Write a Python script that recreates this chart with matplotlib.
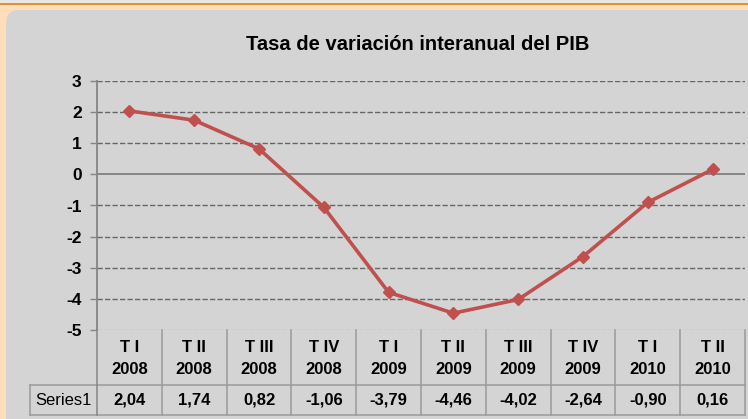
import numpy as np
import matplotlib
matplotlib.use('Agg')
import matplotlib.pyplot as plt
from matplotlib.patches import FancyBboxPatch, Rectangle
from matplotlib.transforms import blended_transform_factory

plt.rcParams['font.family'] = ['Liberation Sans', 'DejaVu Sans']

# datos
trimestres = ['T I', 'T II', 'T III', 'T IV', 'T I', 'T II', 'T III', 'T IV', 'T I', 'T II']
anios = ['2008', '2008', '2008', '2008', '2009', '2009', '2009', '2009', '2010', '2010']
valores = [2.04, 1.74, 0.82, -1.06, -3.79, -4.46, -4.02, -2.64, -0.90, 0.16]
yticks = [3, 2, 1, 0, -1, -2, -3, -4, -5]

W, H = 748, 419
fig = plt.figure(figsize=(W / 100, H / 100), dpi=100)
fig.patch.set_facecolor('#FFDDB9')

# capa de fondo en pixeles
bg = fig.add_axes([0, 0, 1, 1])
bg.set_xlim(0, W)
bg.set_ylim(H, 0)
bg.axis('off')
bg.add_patch(Rectangle((0, 0), W, 3.5, color='#EDE7E1', zorder=0))
bg.plot([0, W], [4.2, 4.2], color='#D68A2E', lw=1.3, zorder=1)
bg.add_patch(FancyBboxPatch((6, 10), W + 20, H + 20,
                            boxstyle='round,pad=0,rounding_size=13',
                            facecolor='#D4D4D4', edgecolor='none', zorder=1))

# eje principal
left, right, top, bottom = 97, 745, 81, 330
ax = fig.add_axes([left / W, (H - bottom) / H, (right - left) / W, (bottom - top) / H])
ax.set_facecolor('none')
x = np.arange(len(valores))
ax.set_xlim(-0.5, len(valores) - 0.5)
ax.set_ylim(-5, 3)

for v in yticks:
    if v == 0:
        ax.axhline(v, color='#858585', lw=1.4, zorder=1)
    elif v == -5:
        ax.axhline(v, color='#A0A0A0', lw=0.9, ls=(0, (3.5, 1.6)), zorder=1)
    else:
        ax.axhline(v, color='#666666', lw=1.0, ls=(0, (3.8, 1.6)), zorder=1)

ax.plot(x, valores, color='#C0504D', lw=2.6, marker='D', ms=6.5,
        markeredgecolor='#C0504D', zorder=3)

ax.set_yticks(yticks)
ax.set_yticklabels([str(v) for v in yticks], fontsize=12.5, fontweight='bold')
ax.tick_params(axis='y', length=5, width=1, color='#858585', pad=6)
ax.set_xticks([])
for s in ['top', 'right', 'bottom']:
    ax.spines[s].set_visible(False)
ax.spines['left'].set_color('#858585')
ax.spines['left'].set_linewidth(1.3)

fig.text(418 / W, 1 - 45 / H, 'Tasa de variación interanual del PIB',
         ha='center', va='center', fontsize=14.5, fontweight='bold')

# tabla de datos
tr = blended_transform_factory(ax.transData, bg.transData)
gris = '#9A9A9A'
row_mid, row_bot = 385, 415
bg.plot([30, right], [row_mid, row_mid], color=gris, lw=1.1)
bg.plot([30, right], [row_bot, row_bot], color=gris, lw=1.1)
bg.plot([30, 30], [row_mid, row_bot], color=gris, lw=1.1)
bg.plot([right, right], [bottom, row_bot], color=gris, lw=1.1)
for i in range(len(valores)):
    xb = i - 0.5
    bg.plot([xb, xb], [bottom, row_bot], color=gris if i else '#858585', lw=1.1,
            transform=tr)
for i in range(len(valores)):
    bg.text(x[i], 347, trimestres[i], transform=tr, ha='center', va='center',
            fontsize=12, fontweight='bold')
    bg.text(x[i], 369, anios[i], transform=tr, ha='center', va='center',
            fontsize=12, fontweight='bold')
    bg.text(x[i], 400, f'{valores[i]:.2f}'.replace('.', ','), transform=tr,
            ha='center', va='center', fontsize=12, fontweight='bold')
bg.text(63, 400, 'Series1', ha='center', va='center', fontsize=12)

fig.savefig('out.png', dpi=100, facecolor=fig.get_facecolor())
